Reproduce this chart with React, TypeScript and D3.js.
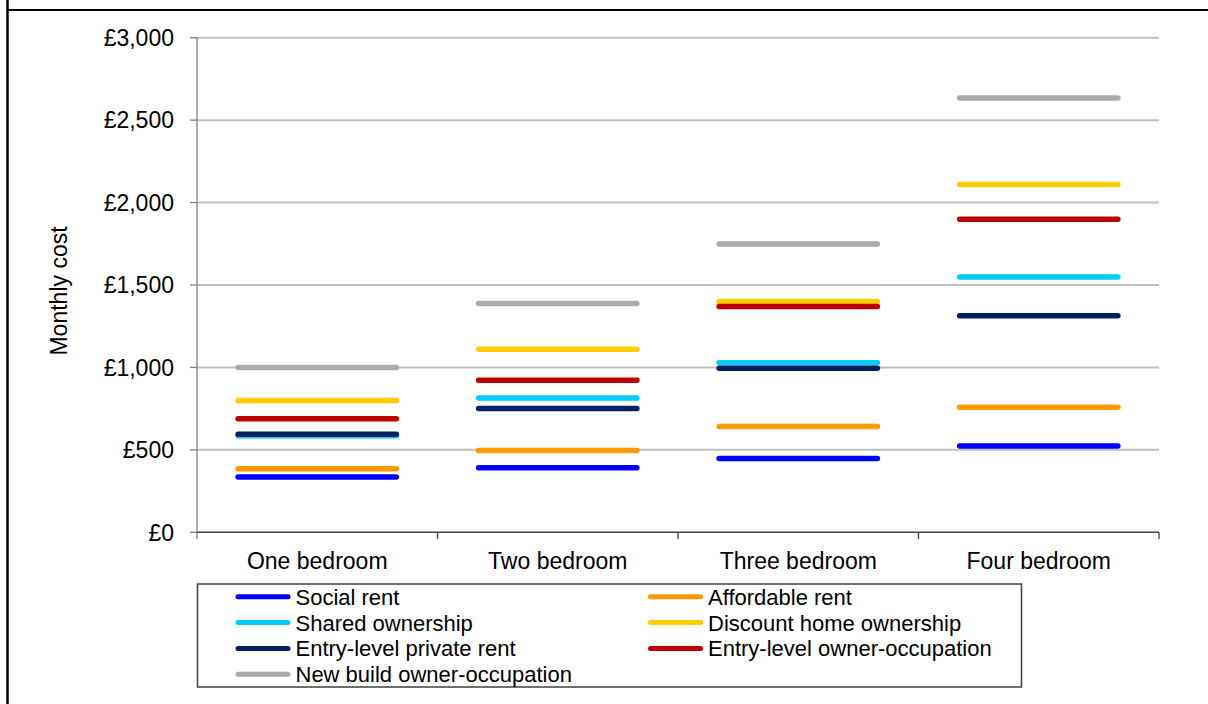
import React from "react";
import * as d3 from "d3";

const categories = ["One bedroom", "Two bedroom", "Three bedroom", "Four bedroom"];
const seriesNames = [
  "Social rent",
  "Affordable rent",
  "Shared ownership",
  "Discount home ownership",
  "Entry-level private rent",
  "Entry-level owner-occupation",
  "New build owner-occupation",
];
const seriesColors = ["#0000FF", "#FF9900", "#00CCFF", "#FFCC00", "#002060", "#C00000", "#ADAAA9"];
const socialRent = [335, 391, 448, 524];
const affordableRent = [385, 496, 642, 759];
const sharedOwnership = [586, 815, 1029, 1548];
const discountHomeOwnership = [800, 1110, 1400, 2109];
const entryPrivateRent = [594, 751, 995, 1314];
const entryOwnerOccupation = [688, 922, 1370, 1899];
const newBuildOwnerOccupation = [1000, 1388, 1748, 2635];
const seriesValues = [
  socialRent,
  affordableRent,
  sharedOwnership,
  discountHomeOwnership,
  entryPrivateRent,
  entryOwnerOccupation,
  newBuildOwnerOccupation,
];
const yTicks = [0, 500, 1000, 1500, 2000, 2500, 3000];
const yTitle = "Monthly cost";

const W = 1208;
const H = 704;
const FONT = "'Liberation Sans', Arial, Helvetica, sans-serif";

export default function App() {
  const x = d3.scaleBand<string>().domain(categories).range([197, 1159]).padding(0);
  const y = d3.scaleLinear().domain([0, 3000]).range([532.3, 37.7]);
  const bw = x.bandwidth();
  const fmt = (v: number) => "£" + d3.format(",")(v);
  const line = d3.line<[number, number]>().x((d) => d[0]).y((d) => d[1]);

  const legendRows = seriesNames.map((name, i) => ({
    name,
    color: seriesColors[i],
    col: i % 2,
    row: Math.floor(i / 2),
  }));
  const colX = [238, 650.5];

  return (
    <svg
      width={W}
      height={H}
      style={{ position: "absolute", left: 0, top: 0, background: "#fff" }}
      fontFamily={FONT}
    >
      <rect x={0} y={0} width={W} height={H} fill="#fff" />
      {/* frame */}
      <line x1={7.5} x2={W} y1={10} y2={10} stroke="#000" strokeWidth={2} />
      <line x1={7.5} x2={7.5} y1={0} y2={H} stroke="#000" strokeWidth={2.5} />

      {/* gridlines */}
      {yTicks
        .filter((t) => t > 0)
        .map((t) => (
          <line key={"g" + t} x1={197} x2={1159} y1={y(t)} y2={y(t)} stroke="#C0C0C0" strokeWidth={2} />
        ))}

      {/* y axis */}
      <line x1={197} x2={197} y1={y(3000)} y2={539} stroke="#808080" strokeWidth={1.3} />
      {yTicks.map((t) => (
        <g key={"t" + t}>
          <line x1={190} x2={197} y1={y(t)} y2={y(t)} stroke="#808080" strokeWidth={1.3} />
          <text x={174} y={y(t)} dy="0.36em" textAnchor="end" fontSize={23} fill="#000">
            {fmt(t)}
          </text>
        </g>
      ))}
      <text
        transform={`translate(67,291) rotate(-90)`}
        textAnchor="middle"
        fontSize={23}
        fill="#000"
      >
        {yTitle}
      </text>

      {/* x axis */}
      <line x1={197} x2={1159} y1={y(0)} y2={y(0)} stroke="#404040" strokeWidth={1.5} />
      {categories.map((c) => (
        <line key={"xt" + c} x1={(x(c) as number) + bw} x2={(x(c) as number) + bw} y1={y(0)} y2={539} stroke="#404040" strokeWidth={1.3} />
      ))}
      {categories.map((c) => (
        <text key={"xl" + c} x={(x(c) as number) + bw / 2} y={568.5} textAnchor="middle" fontSize={23} fill="#000">
          {c}
        </text>
      ))}

      {/* series */}
      {seriesValues.map((vals, si) => (
        <g key={"s" + si}>
          {vals.map((v, ci) => {
            const x0 = (x(categories[ci]) as number) + bw * 0.171;
            const x1 = (x(categories[ci]) as number) + bw * 0.829;
            return (
              <path
                key={ci}
                d={line([
                  [x0, y(v)],
                  [x1, y(v)],
                ]) as string}
                stroke={seriesColors[si]}
                strokeWidth={5.5}
                strokeLinecap="round"
                fill="none"
              />
            );
          })}
        </g>
      ))}

      {/* legend */}
      <rect x={197.5} y={584} width={824} height={103} fill="#fff" stroke="#404040" strokeWidth={1.5} />
      {legendRows.map((r) => {
        const cy = 596.8 + r.row * 25.8;
        const sx = colX[r.col];
        return (
          <g key={r.name}>
            <line x1={sx} x2={sx + 50} y1={cy} y2={cy} stroke={r.color} strokeWidth={5} strokeLinecap="round" />
            <text x={sx + 57.5} y={cy} dy="0.36em" fontSize={22} fill="#000">
              {r.name}
            </text>
          </g>
        );
      })}
    </svg>
  );
}
